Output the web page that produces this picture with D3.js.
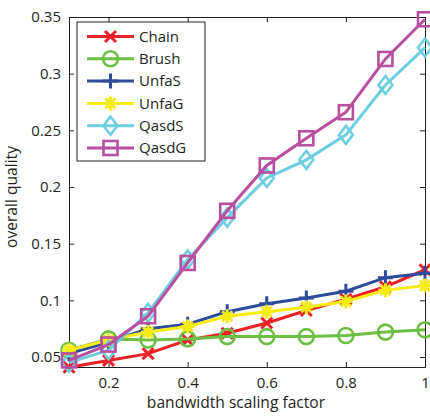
<!DOCTYPE html>
<html>
<head>
<meta charset="utf-8">
<script src="https://cdn.jsdelivr.net/npm/d3@7"></script>
<style>
  body { margin: 0; background: #fff; }
  text { font-family: "Open Sans", sans-serif; fill: #231f20; }
</style>
</head>
<body>
<svg id="chart" width="430" height="418"></svg>
<script>
// data
var xs = [0.1, 0.2, 0.3, 0.4, 0.5, 0.6, 0.7, 0.8, 0.9, 1.0];
var chain = [0.041, 0.047, 0.053, 0.065, 0.071, 0.080, 0.091, 0.101, 0.112, 0.127];
var brush = [0.056, 0.066, 0.065, 0.066, 0.068, 0.068, 0.068, 0.069, 0.072, 0.074];
var unfaS = [0.053, 0.063, 0.075, 0.079, 0.090, 0.097, 0.102, 0.108, 0.120, 0.124];
var unfaG = [0.056, 0.065, 0.072, 0.077, 0.086, 0.090, 0.094, 0.099, 0.109, 0.113];
var qasdS = [0.045, 0.056, 0.089, 0.136, 0.173, 0.208, 0.224, 0.246, 0.290, 0.323];
var qasdG = [0.047, 0.061, 0.086, 0.133, 0.179, 0.219, 0.243, 0.266, 0.313, 0.348];
var seriesNames = ["Chain", "Brush", "UnfaS", "UnfaG", "QasdS", "QasdG"];
var xTicks = [0.2, 0.4, 0.6, 0.8, 1];
var yTicks = [0.05, 0.1, 0.15, 0.2, 0.25, 0.3, 0.35];

var series = [
  {name: "Chain", vals: chain, color: "#ec2027", mark: "x"},
  {name: "Brush", vals: brush, color: "#6cbe45", mark: "o"},
  {name: "UnfaS", vals: unfaS, color: "#2e4b9b", mark: "+"},
  {name: "UnfaG", vals: unfaG, color: "#f6eb14", mark: "*"},
  {name: "QasdS", vals: qasdS, color: "#6dcde1", mark: "d"},
  {name: "QasdG", vals: qasdG, color: "#b94f9f", mark: "s"}
];

var svg = d3.select("#chart"),
    margin = {top: 17, left: 69, bottom: 51, right: 5},
    width = +svg.attr("width"),
    height = +svg.attr("height");

var x = d3.scaleLinear().domain([0.1, 1]).range([margin.left, width - margin.right]);
var y = d3.scaleLinear().domain([0.0412, 0.35]).range([height - margin.bottom, margin.top]);

function fmt(d) { return String(+d.toFixed(2)); }

// axes with inward ticks, box style
svg.append("g")
  .attr("transform", "translate(0," + (height - margin.bottom) + ")")
  .call(d3.axisBottom(x).tickValues(xTicks).tickFormat(fmt).tickSizeInner(-5).tickSizeOuter(0).tickPadding(10))
  .call(g => g.selectAll("text").style("font-size", "15px"));
svg.append("g")
  .attr("transform", "translate(0," + margin.top + ")")
  .call(d3.axisTop(x).tickValues(xTicks).tickFormat("").tickSizeInner(-5).tickSizeOuter(0));
svg.append("g")
  .attr("transform", "translate(" + margin.left + ",0)")
  .call(d3.axisLeft(y).tickValues(yTicks).tickFormat(fmt).tickSizeInner(-5).tickSizeOuter(0).tickPadding(8))
  .call(g => g.selectAll("text").style("font-size", "15px"));
svg.append("g")
  .attr("transform", "translate(" + (width - margin.right) + ",0)")
  .call(d3.axisRight(y).tickValues(yTicks).tickFormat("").tickSizeInner(-5).tickSizeOuter(0));

svg.selectAll(".domain").attr("stroke", "#231f20");
svg.selectAll(".tick line").attr("stroke", "#231f20");

svg.append("text")
  .attr("x", 236)
  .attr("y", 408)
  .attr("text-anchor", "middle")
  .style("font-size", "15.6px")
  .text("bandwidth scaling factor");

svg.append("text")
  .attr("transform", "translate(17,197) rotate(-90)")
  .attr("text-anchor", "middle")
  .style("font-size", "15.6px")
  .text("overall quality");

function marker(g, type, color) {
  var sw = 2.6;
  if (type == "x") {
    g.append("path").attr("d", "M-5.5,-5.5L5.5,5.5M-5.5,5.5L5.5,-5.5")
      .attr("stroke", color).attr("stroke-width", sw + 0.4).attr("fill", "none");
  } else if (type == "o") {
    g.append("circle").attr("r", 7.5)
      .attr("stroke", color).attr("stroke-width", sw).attr("fill", "none");
  } else if (type == "+") {
    g.append("path").attr("d", "M-7.5,0L7.5,0M0,-7.5L0,7.5")
      .attr("stroke", color).attr("stroke-width", sw + 0.4).attr("fill", "none");
  } else if (type == "*") {
    g.append("path").attr("d", "M-7,0L7,0M0,-7L0,7M-5,-5L5,5M-5,5L5,-5")
      .attr("stroke", color).attr("stroke-width", sw + 0.4).attr("fill", "none");
  } else if (type == "d") {
    g.append("path").attr("d", "M0,-9L7,0L0,9L-7,0Z")
      .attr("stroke", color).attr("stroke-width", sw).attr("fill", "none");
  } else if (type == "s") {
    g.append("rect").attr("x", -7).attr("y", -7).attr("width", 14).attr("height", 14)
      .attr("stroke", color).attr("stroke-width", sw).attr("fill", "none");
  }
}

var line = d3.line().x((d, i) => x(xs[i])).y(d => y(d));

series.forEach(function(s) {
  svg.append("path")
    .datum(s.vals)
    .attr("d", line)
    .attr("fill", "none")
    .attr("stroke", s.color)
    .attr("stroke-width", 3);
  s.vals.forEach(function(v, i) {
    var g = svg.append("g").attr("transform", "translate(" + x(xs[i]) + "," + y(v) + ")");
    marker(g, s.mark, s.color);
  });
});

// legend
var legend = svg.append("g").attr("transform", "translate(77,22)");
legend.append("rect")
  .attr("width", 128).attr("height", 139)
  .attr("fill", "#fff").attr("stroke", "#231f20").attr("stroke-width", 1);
series.forEach(function(s, i) {
  var ly = 14.5 + i * 22.3;
  legend.append("line")
    .attr("x1", 10).attr("x2", 57).attr("y1", ly).attr("y2", ly)
    .attr("stroke", s.color).attr("stroke-width", 3);
  marker(legend.append("g").attr("transform", "translate(33.5," + ly + ")"), s.mark, s.color);
  legend.append("text")
    .attr("x", 62).attr("y", ly)
    .attr("dy", "0.35em")
    .style("font-size", "15px")
    .text(seriesNames[i]);
});
</script>
</body>
</html>
